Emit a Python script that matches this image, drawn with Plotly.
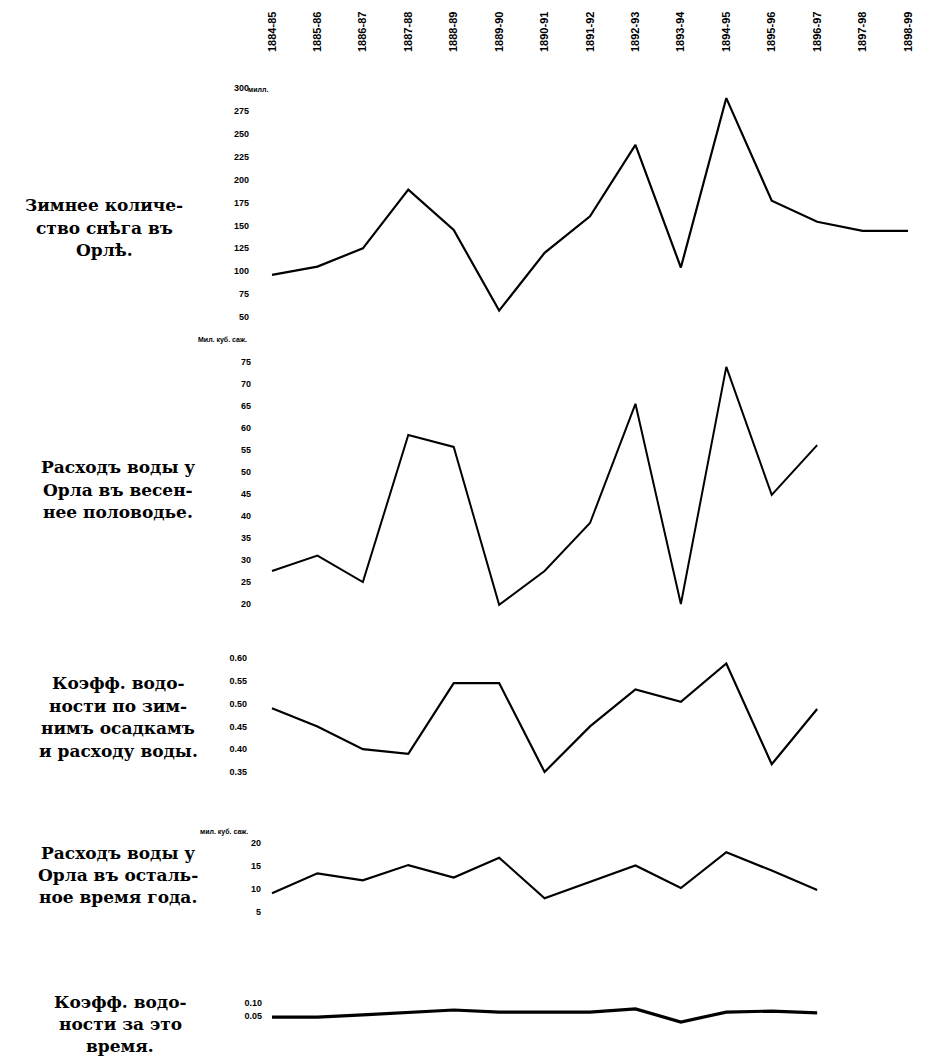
import plotly.graph_objects as go

PAGE_OFF = 8                 # browser body margin
W, H = 931 - PAGE_OFF, 1056 - PAGE_OFF

years = ["1884-85", "1885-86", "1886-87", "1887-88", "1888-89", "1889-90", "1890-91",
         "1891-92", "1892-93", "1893-94", "1894-95", "1895-96", "1896-97", "1897-98", "1898-99"]

snow_mm = [96, 105, 125, 189, 145, 57, 120, 160, 238, 104, 289, 177, 154, 144, 144]
spring_flow = [27.5, 31.0, 25.0, 58.4, 55.7, 19.8, 27.5, 38.4, 65.5, 20.0, 73.9, 44.8, 56.1]
coef_spring = [0.49, 0.45, 0.40, 0.39, 0.545, 0.545, 0.35, 0.45, 0.531, 0.504, 0.588, 0.367, 0.488]
other_flow = [9.1, 13.4, 11.9, 15.2, 12.5, 16.8, 8.0, 11.5, 15.1, 10.2, 18.0, 14.0, 9.8]
coef_other = [0.046, 0.046, 0.054, 0.062, 0.073, 0.065, 0.065, 0.065, 0.077, 0.027, 0.065, 0.069, 0.062]

snow_ticks = [50, 75, 100, 125, 150, 175, 200, 225, 250, 275, 300]
spring_ticks = [20, 25, 30, 35, 40, 45, 50, 55, 60, 65, 70, 75]
coef_ticks = [0.35, 0.40, 0.45, 0.50, 0.55, 0.60]
other_ticks = [5, 10, 15, 20]
coef2_ticks = [0.05, 0.10]

title_lines = [
    ["Зимнее количе-", "ство снѣга въ", "Орлѣ."],
    ["Расходъ воды у", "Орла въ весен-", "нее половодье."],
    ["Коэфф. водо-", "ности по зим-", "нимъ осадкамъ", "и расходу воды."],
    ["Расходъ воды у", "Орла въ осталь-", "ное время года."],
    ["Коэфф. водо-", "ности за это", "время."],
]
title_pos = [  # (center x, first line y, line step) in page pixels
    (104, 205, 22.5),
    (118, 467, 22.5),
    (118, 683, 22.5),
    (118, 853, 22.0),
    (120, 1002, 22.0),
]


def fx(x):
    return (x - PAGE_OFF) / W


def fy(y):
    return 1 - (y - PAGE_OFF) / H


X0, DX = 272.0, 45.43  # page pixel of first category, spacing


def ydom(v1, p1, v2, p2, r0, r1):
    s = (p1 - p2) / (v2 - v1)
    y_r0 = p1 + (v1 - r0) * s
    y_r1 = p1 - (r1 - v1) * s
    return [fy(y_r0), fy(y_r1)]


tick_font = dict(family="Liberation Sans", size=9, color="black", weight="bold")

fig = go.Figure()
series = [snow_mm, spring_flow, coef_spring, other_flow, coef_other]
widths = [2.2, 2.0, 2.2, 2.2, 3.2]
for k, (vals, w) in enumerate(zip(series, widths)):
    yref = "y" if k == 0 else f"y{k+1}"
    fig.add_trace(go.Scatter(
        x=list(range(len(vals))), y=vals, mode="lines",
        line=dict(color="black", width=w), xaxis="x", yaxis=yref,
        hoverinfo="skip", showlegend=False, cliponaxis=False))

axis_specs = [
    (snow_ticks, [str(t) for t in snow_ticks], ydom(50, 317, 300, 88, 40, 310), [40, 310], 246),
    (spring_ticks, [str(t) for t in spring_ticks], ydom(20, 604, 75, 362, 15, 80), [15, 80], 248),
    (coef_ticks, [f"{t:.2f}" for t in coef_ticks], ydom(0.35, 772, 0.60, 658, 0.30, 0.65), [0.30, 0.65], 244),
    (other_ticks, [str(t) for t in other_ticks], ydom(5, 912, 20, 843, 0, 25), [0, 25], 258),
    (coef2_ticks, [f"{t:.2f}" for t in coef2_ticks], ydom(0.05, 1016, 0.10, 1003, 0.0, 0.12), [0.0, 0.12], 259),
]

layout_axes = {}
for k, (tv, tt, dom, rng, redge) in enumerate(axis_specs):
    name = "yaxis" if k == 0 else f"yaxis{k+1}"
    layout_axes[name] = dict(
        domain=dom, range=rng, tickvals=tv, ticktext=tt, anchor="free",
        position=fx(redge + 3), side="left", showgrid=False, zeroline=False,
        showline=False, ticks="", tickfont=tick_font)

layout_axes["xaxis"] = dict(
    domain=[0, 1], range=[-(X0 - PAGE_OFF) / DX, (W - (X0 - PAGE_OFF)) / DX],
    tickvals=list(range(len(years))), ticktext=years,
    side="top", anchor="free", position=fy(52), tickangle=-90,
    showgrid=False, zeroline=False, showline=False, ticks="",
    tickfont=dict(family="Liberation Sans", size=11, color="black", weight="bold"))

annotations = []
for lines, (cx, y0, step) in zip(title_lines, title_pos):
    for i, ln in enumerate(lines):
        annotations.append(dict(
            text=ln, x=fx(cx), y=fy(y0 + i * step), xref="paper", yref="paper",
            showarrow=False, xanchor="center", yanchor="middle",
            font=dict(family="DejaVu Serif", size=17, color="black", weight="bold")))

unit_font = dict(family="Liberation Sans", size=7, color="black", weight="bold")
annotations += [
    dict(text="милл.", x=fx(246), y=fy(89), xref="paper", yref="paper",
         showarrow=False, xanchor="left", yanchor="middle", font=unit_font),
    dict(text="Мил. куб. саж.", x=fx(222), y=fy(340), xref="paper", yref="paper",
         showarrow=False, xanchor="center", yanchor="middle", font=unit_font),
    dict(text="мил. куб. саж.", x=fx(224), y=fy(832), xref="paper", yref="paper",
         showarrow=False, xanchor="center", yanchor="middle", font=unit_font),
]

fig.update_layout(
    width=W, height=H, margin=dict(l=0, r=0, t=0, b=0),
    paper_bgcolor="white", plot_bgcolor="white",
    annotations=annotations, **layout_axes)

fig.write_html("out.html")
